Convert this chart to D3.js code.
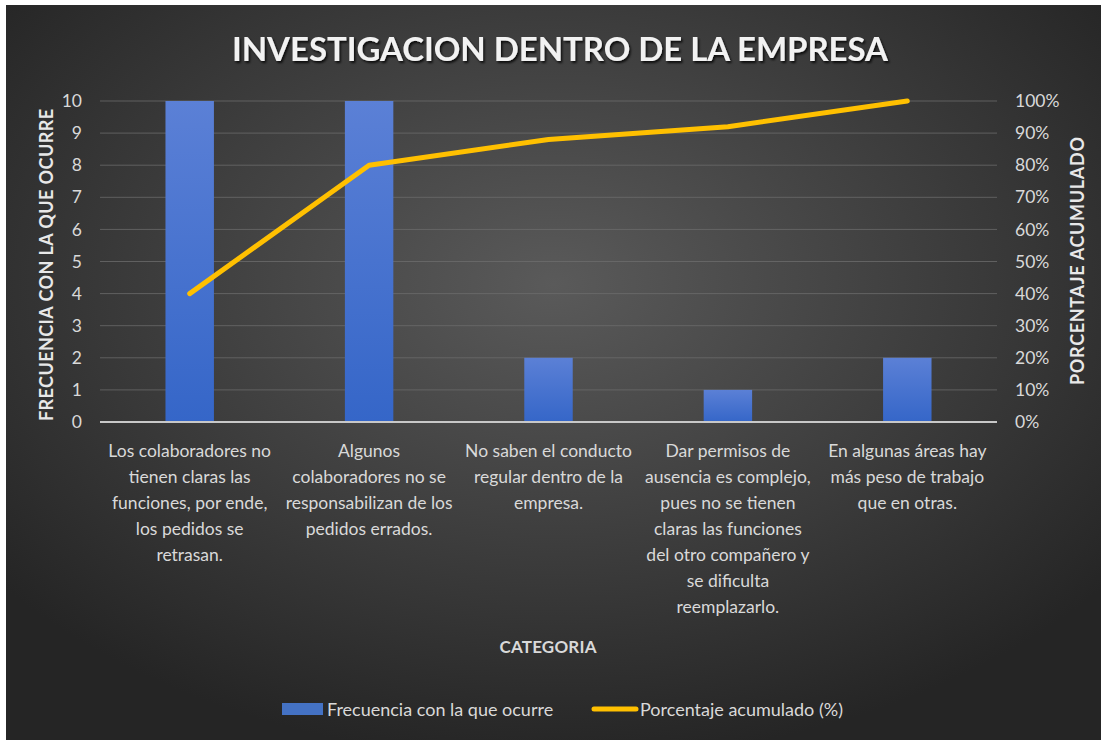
<!DOCTYPE html>
<html>
<head>
<meta charset="utf-8">
<script src="https://cdn.jsdelivr.net/npm/d3@7"></script>
<style>
  body { margin: 0; background: #fff; }
  svg { display: block; }
</style>
</head>
<body>
<div id="chart"></div>
<script>
// data
const categories = [
  "Los colaboradores no tienen claras las funciones, por ende, los pedidos se retrasan.",
  "Algunos colaboradores no se responsabilizan de los pedidos errados.",
  "No saben el conducto regular dentro de la empresa.",
  "Dar permisos de ausencia es complejo, pues no se tienen claras las funciones del otro compañero y se dificulta reemplazarlo.",
  "En algunas áreas hay más peso de trabajo que en otras."
];
// pre-wrapped lines, as in the picture
const categoryLines = [
  ["Los colaboradores no", "tienen claras las", "funciones, por ende,", "los pedidos se", "retrasan."],
  ["Algunos", "colaboradores no se", "responsabilizan de los", "pedidos errados."],
  ["No saben el conducto", "regular dentro de la", "empresa."],
  ["Dar permisos de", "ausencia es complejo,", "pues no se tienen", "claras las funciones", "del otro compañero y", "se dificulta", "reemplazarlo."],
  ["En algunas áreas hay", "más peso de trabajo", "que en otras."]
];
const frecuencia = [10, 10, 2, 1, 2];
const acumulado = [0.40, 0.80, 0.88, 0.92, 1.00];
const leftTicks = [0, 1, 2, 3, 4, 5, 6, 7, 8, 9, 10];
const rightTicks = [0, 0.1, 0.2, 0.3, 0.4, 0.5, 0.6, 0.7, 0.8, 0.9, 1.0];

const width = 1101, height = 740;
const margin = { top: 101, right: 104, bottom: 318, left: 100 };
const innerW = width - margin.left - margin.right;
const innerH = height - margin.top - margin.bottom;
const font = "Lato, 'Open Sans', sans-serif";

const svg = d3.select("#chart").append("svg")
  .attr("width", width)
  .attr("height", height);

const defs = svg.append("defs");
const bg = defs.append("radialGradient").attr("id", "bg")
  .attr("cx", "50%").attr("cy", "38%").attr("r", "65%");
bg.append("stop").attr("offset", "0%").attr("stop-color", "#5a5a5a");
bg.append("stop").attr("offset", "100%").attr("stop-color", "#252525");

const barGrad = defs.append("linearGradient").attr("id", "barGrad")
  .attr("x1", 0).attr("y1", 0).attr("x2", 0).attr("y2", 1);
barGrad.append("stop").attr("offset", "0%").attr("stop-color", "#5b80d6");
barGrad.append("stop").attr("offset", "100%").attr("stop-color", "#3566c8");

const shadow = defs.append("filter").attr("id", "shadow")
  .attr("x", "-5%").attr("y", "-20%").attr("width", "110%").attr("height", "150%");
shadow.append("feDropShadow").attr("dx", 1.5).attr("dy", 2).attr("stdDeviation", 1.2)
  .attr("flood-color", "#000").attr("flood-opacity", 0.8);

// background with white border like the picture
svg.append("rect").attr("x", 6).attr("y", 5)
  .attr("width", width - 6).attr("height", height - 5)
  .attr("fill", "url(#bg)");

// title
svg.append("text")
  .attr("x", 560).attr("y", 61)
  .attr("text-anchor", "middle")
  .attr("font-family", font)
  .attr("font-size", 33)
  .attr("font-weight", "bold")
  .attr("fill", "#f2f2f2")
  .attr("textLength", 656)
  .attr("lengthAdjust", "spacing")
  .attr("filter", "url(#shadow)")
  .text("INVESTIGACION DENTRO DE LA EMPRESA");

const g = svg.append("g").attr("transform", `translate(${margin.left},${margin.top})`);

const x = d3.scaleBand().domain(d3.range(categories.length)).range([0, innerW]).paddingInner(0).paddingOuter(0);
const yLeft = d3.scaleLinear().domain([0, 10]).range([innerH, 0]);
const yRight = d3.scaleLinear().domain([0, 1]).range([innerH, 0]);

// gridlines
g.append("g").selectAll("line")
  .data(leftTicks.slice(1))
  .join("line")
  .attr("x1", 0).attr("x2", innerW)
  .attr("y1", d => yLeft(d)).attr("y2", d => yLeft(d))
  .attr("stroke", "#6e6e6e").attr("stroke-opacity", 0.75).attr("stroke-width", 1);

// bars
const barW = x.bandwidth() * 0.27;
g.append("g").selectAll("rect")
  .data(frecuencia)
  .join("rect")
  .attr("x", (d, i) => x(i) + x.bandwidth() / 2 - barW / 2)
  .attr("y", d => yLeft(d))
  .attr("width", barW)
  .attr("height", d => innerH - yLeft(d))
  .attr("fill", "url(#barGrad)");

// zero line
g.append("line")
  .attr("x1", 0).attr("x2", innerW)
  .attr("y1", innerH).attr("y2", innerH)
  .attr("stroke", "#c8c8c8").attr("stroke-width", 2);

// left axis
const leftAxis = g.append("g")
  .call(d3.axisLeft(yLeft).tickValues(leftTicks).tickSize(0).tickPadding(18));
leftAxis.select(".domain").remove();
leftAxis.selectAll("text")
  .attr("font-family", font).attr("font-size", 17.5).attr("fill", "#d9d9d9");

// right axis
const rightAxis = g.append("g").attr("transform", `translate(${innerW},0)`)
  .call(d3.axisRight(yRight).tickValues(rightTicks).tickSize(0).tickPadding(18).tickFormat(d3.format(".0%")));
rightAxis.select(".domain").remove();
rightAxis.selectAll("text")
  .attr("font-family", font).attr("font-size", 17.5).attr("fill", "#d9d9d9");

// cumulative line
const line = d3.line()
  .x((d, i) => x(i) + x.bandwidth() / 2)
  .y(d => yRight(d));
g.append("path")
  .datum(acumulado)
  .attr("d", line)
  .attr("fill", "none")
  .attr("stroke", "#ffc000")
  .attr("stroke-width", 5)
  .attr("stroke-linejoin", "round")
  .attr("stroke-linecap", "round");

// category labels
const cat = g.append("g").selectAll("text")
  .data(categoryLines)
  .join("text")
  .attr("x", (d, i) => x(i) + x.bandwidth() / 2)
  .attr("y", innerH + 35)
  .attr("text-anchor", "middle")
  .attr("font-family", font)
  .attr("font-size", 17.5)
  .attr("fill", "#d9d9d9");
cat.selectAll("tspan")
  .data(d => d)
  .join("tspan")
  .attr("x", function() { return this.parentNode.getAttribute("x"); })
  .attr("dy", (d, i) => i === 0 ? 0 : 26)
  .text(d => d);

// axis titles
svg.append("text")
  .attr("x", 548).attr("y", 653)
  .attr("text-anchor", "middle")
  .attr("font-family", font).attr("font-size", 17).attr("font-weight", "bold")
  .attr("fill", "#d9d9d9")
  .attr("textLength", 97)
  .text("CATEGORIA");

svg.append("text")
  .attr("transform", "translate(53,265) rotate(-90)")
  .attr("text-anchor", "middle")
  .attr("font-family", font).attr("font-size", 18).attr("font-weight", "bold")
  .attr("fill", "#e8e8e8")
  .attr("textLength", 312)
  .text("FRECUENCIA CON LA QUE OCURRE");

svg.append("text")
  .attr("transform", "translate(1084,261) rotate(-90)")
  .attr("text-anchor", "middle")
  .attr("font-family", font).attr("font-size", 18).attr("font-weight", "bold")
  .attr("fill", "#e8e8e8")
  .attr("textLength", 248)
  .text("PORCENTAJE ACUMULADO");

// legend
const legend = svg.append("g").attr("transform", "translate(0,709)");
legend.append("rect")
  .attr("x", 282).attr("y", -6).attr("width", 41).attr("height", 12)
  .attr("fill", "#4472c4");
legend.append("text")
  .attr("x", 327).attr("y", 6.5)
  .attr("font-family", font).attr("font-size", 18).attr("fill", "#d9d9d9")
  .text("Frecuencia con la que ocurre");
legend.append("line")
  .attr("x1", 594).attr("x2", 636).attr("y1", 0).attr("y2", 0)
  .attr("stroke", "#ffc000").attr("stroke-width", 5).attr("stroke-linecap", "round");
legend.append("text")
  .attr("x", 640).attr("y", 6.5)
  .attr("font-family", font).attr("font-size", 18).attr("fill", "#d9d9d9")
  .text("Porcentaje acumulado (%)");
</script>
</body>
</html>
